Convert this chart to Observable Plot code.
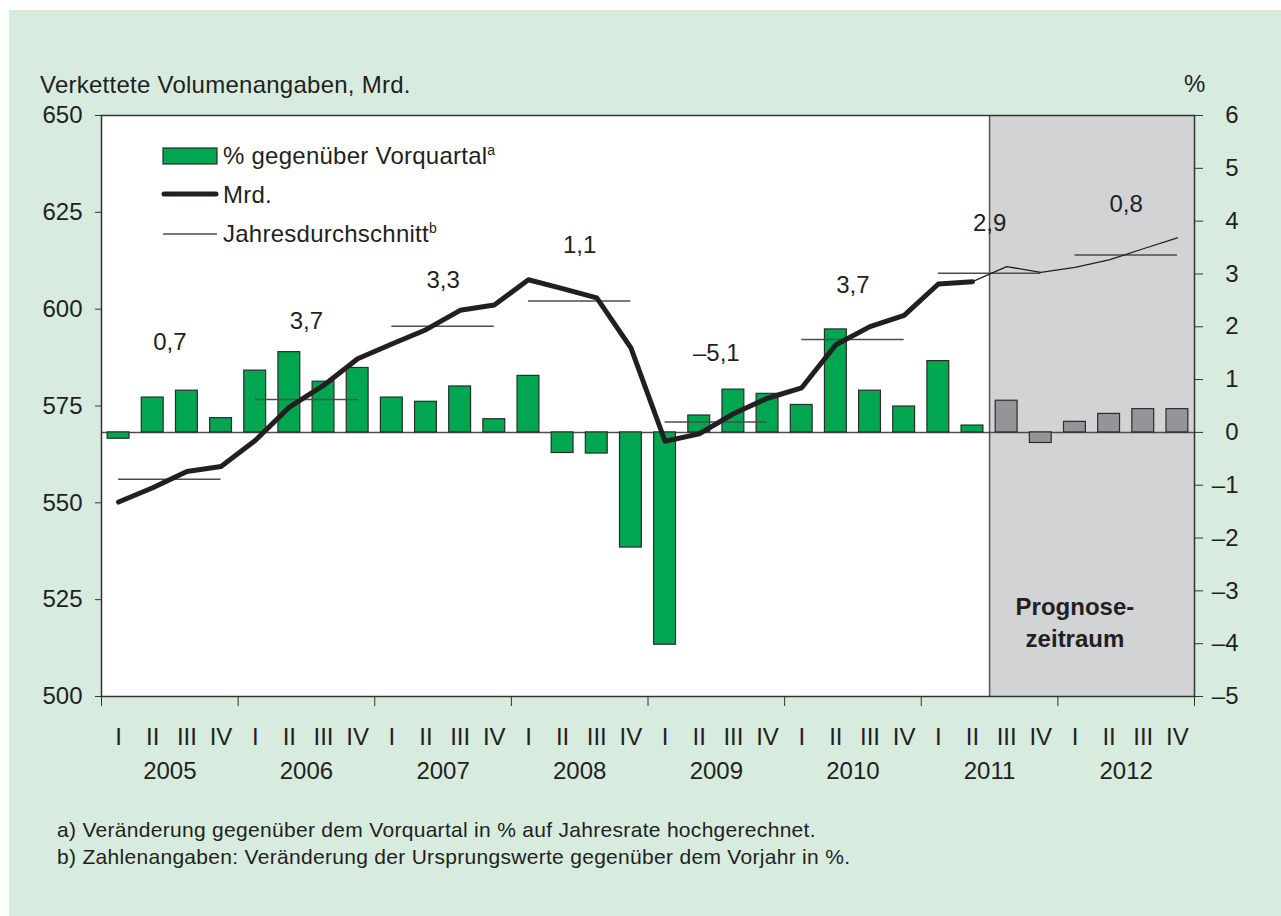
<!DOCTYPE html>
<html><head><meta charset="utf-8">
<script src="https://cdn.jsdelivr.net/npm/d3@7"></script>
<script src="https://cdn.jsdelivr.net/npm/@observablehq/plot@0.6"></script>
<style>
body{margin:0;background:#fff;font-family:"Liberation Sans",Arial,sans-serif;color:#231f20;}
#page{position:relative;width:1281px;height:916px;overflow:hidden;}
#bg{position:absolute;left:9px;top:10px;right:0;bottom:0;background:#d7ebdf;}
.t{position:absolute;white-space:nowrap;font-size:24px;line-height:1;letter-spacing:0.25px;}
.sup{font-size:14px;position:relative;top:-9px;}
#chart{position:absolute;left:0;top:105px;}
#notes{position:absolute;left:57px;top:816px;font-size:21px;line-height:27px;letter-spacing:0.3px;white-space:nowrap;}
</style></head><body>
<div id="page">
<div id="bg"></div>
<div class="t" style="left:40px;top:73px;">Verkettete Volumenangaben, Mrd.</div>
<div class="t" style="left:1184px;top:72px;">%</div>
<div id="chart"></div>
<svg style="position:absolute;left:160px;top:144px;" width="62" height="95">
  <rect x="3" y="4" width="54" height="16" fill="#00a650" stroke="#2b2b2b" stroke-width="1.2"></rect>
  <line x1="4" x2="56" y1="50" y2="50" stroke="#231f20" stroke-width="5" stroke-linecap="round"></line>
  <line x1="3" x2="57" y1="90" y2="90" stroke="#4d4d4d" stroke-width="1.5"></line>
</svg>
<div class="t" style="left:223px;top:144px;">% gegenüber Vorquartal<span class="sup">a</span></div>
<div class="t" style="left:223px;top:183px;">Mrd.</div>
<div class="t" style="left:223px;top:222px;">Jahresdurchschnitt<span class="sup">b</span></div>
<div id="notes">a) Veränderung gegenüber dem Vorquartal in % auf Jahresrate hochgerechnet.<br>b) Zahlenangaben: Veränderung der Ursprungswerte gegenüber dem Vorjahr in %.</div>
</div>
<script>
// ---- data ----
const years = [2005, 2006, 2007, 2008, 2009, 2010, 2011, 2012];
const quarterLabels = ["I", "II", "III", "IV"];
// % change vs previous quarter (annualised), right axis
const pctChange = [
  -0.12, 0.66, 0.79, 0.27,
  1.17, 1.52, 0.96, 1.22,
  0.66, 0.58, 0.87, 0.25,
  1.07, -0.39, -0.40, -2.18,
  -4.02, 0.32, 0.81, 0.73,
  0.52, 1.95, 0.79, 0.49,
  1.35, 0.13, 0.60, -0.20,
  0.20, 0.35, 0.44, 0.44
];
// Mrd. (chained volumes), actual values up to 2011 Q2
const mrdActual = [
  550.2, 553.9, 558.1, 559.4,
  566.1, 574.7, 580.3, 587.2,
  591.0, 594.7, 599.7, 601.1,
  607.6, 605.3, 602.9, 590.0,
  565.9, 567.8, 573.0, 577.0,
  579.7, 590.8, 595.5, 598.4,
  606.5, 607.1
];
// Mrd. forecast path, from 2011 Q2 to 2012 Q4
const mrdForecast = [607.1, 611.0, 609.5, 610.8, 612.7, 615.6, 618.4];
// annual averages (Mrd.)
const annualAvg = [556.1, 576.7, 595.6, 602.1, 570.9, 592.2, 609.3, 614.0];
// annual change labels and their vertical placement (Mrd. level)
const annualLabel = ["0,7", "3,7", "3,3", "1,1", "\u20135,1", "3,7", "2,9", "0,8"];
const annualLabelLevel = [591.5, 596.9, 607.4, 616.4, 588.5, 606.1, 622.2, 627.0];
const leftTicks = [500, 525, 550, 575, 600, 625, 650];
const rightTicks = [-5, -4, -3, -2, -1, 0, 1, 2, 3, 4, 5, 6];
const forecastStart = 26; // 2011 Q3
const forecastText = "Prognose-\nzeitraum";

// ---- derived ----
const pctDomain = [-5, 6], mrdDomain = [500, 650];
const toMrd = p => mrdDomain[0] + (p - pctDomain[0]) * (mrdDomain[1] - mrdDomain[0]) / (pctDomain[1] - pctDomain[0]);
const toPct = m => pctDomain[0] + (m - mrdDomain[0]) * (pctDomain[1] - pctDomain[0]) / (mrdDomain[1] - mrdDomain[0]);
const zeroMrd = toMrd(0);
const nQ = years.length * 4;
const bars = pctChange.map((p, i) => ({i, p, forecast: i >= forecastStart}));
const lineA = mrdActual.map((m, i) => ({i, m}));
const lineF = mrdForecast.map((m, k) => ({i: mrdActual.length - 1 + k, m}));
const yearsData = years.map((y, k) => ({k, y, avg: annualAvg[k], label: annualLabel[k], level: annualLabelLevel[k]}));
const fmtPct = v => { const p = Math.round(toPct(v)); return p < 0 ? "\u2013" + (-p) : String(p); };
const ink = "#231f20";
const font = 24;

const chart = Plot.plot({
  width: 1281, height: 695,
  marginLeft: 101, marginRight: 87, marginTop: 10, marginBottom: 104,
  x: {type: "linear", domain: [0, nQ]},
  y: {domain: mrdDomain},
  style: {background: "transparent", fontFamily: "'Liberation Sans', Arial, sans-serif", color: ink, overflow: "visible"},
  marks: [
    Plot.frame({fill: "white"}),
    Plot.rect([{x1: forecastStart, x2: nQ}], {x1: "x1", x2: "x2", y1: mrdDomain[0], y2: mrdDomain[1], fill: "#d1d3d4"}),
    Plot.ruleX([forecastStart], {stroke: "#555", strokeWidth: 1.5}),
    Plot.text([forecastText], {x: forecastStart + 2.5, y: 519.6, text: d => d, fontSize: font, fontWeight: "bold", fill: ink, lineHeight: 1.33}),
    Plot.ruleY([zeroMrd], {stroke: "#4d4d4d", strokeWidth: 1.5}),
    Plot.rectY(bars.filter(d => !d.forecast), {x1: d => d.i + 0.18, x2: d => d.i + 0.82, y1: zeroMrd, y2: d => toMrd(d.p), fill: "#00a650", stroke: "#2b2b2b", strokeWidth: 1.2}),
    Plot.rectY(bars.filter(d => d.forecast), {x1: d => d.i + 0.18, x2: d => d.i + 0.82, y1: zeroMrd, y2: d => toMrd(d.p), fill: "#939598", stroke: "#2b2b2b", strokeWidth: 1.2}),
    Plot.ruleY(yearsData, {y: "avg", x1: d => 4 * d.k + 0.5, x2: d => 4 * d.k + 3.5, stroke: "#4d4d4d", strokeWidth: 1.5}),
    Plot.line(lineF, {x: d => d.i + 0.5, y: "m", stroke: ink, strokeWidth: 1.3}),
    Plot.line(lineA, {x: d => d.i + 0.5, y: "m", stroke: ink, strokeWidth: 5, strokeLinecap: "round", strokeLinejoin: "round"}),
    Plot.text(yearsData, {x: d => 4 * d.k + 2, y: "level", text: "label", fontSize: font, fill: ink}),
    Plot.frame({stroke: "#333", strokeWidth: 1.5}),
    Plot.axisY(leftTicks, {anchor: "left", tickSize: 6, tickPadding: 13, fontSize: font, label: null, stroke: "#333"}),
    Plot.axisY(rightTicks.map(toMrd), {anchor: "right", tickSize: 8, tickPadding: 36, textAnchor: "end", tickFormat: fmtPct, fontSize: font, label: null, stroke: "#333"}),
    Plot.axisX(d3.range(0, nQ + 1, 4), {anchor: "bottom", tickSize: 10, tickFormat: () => "", label: null, stroke: "#333"}),
    Plot.axisX(d3.range(nQ).map(i => i + 0.5), {anchor: "bottom", tickSize: 0, tickPadding: 31, tickFormat: d => quarterLabels[Math.floor(d) % 4], fontSize: font, label: null}),
    Plot.axisX(yearsData.map(d => 4 * d.k + 2), {anchor: "bottom", tickSize: 0, tickPadding: 65, tickFormat: d => String(years[Math.round((d - 2) / 4)]), fontSize: font, label: null})
  ]
});
document.getElementById("chart").appendChild(chart);
</script>
</body></html>
